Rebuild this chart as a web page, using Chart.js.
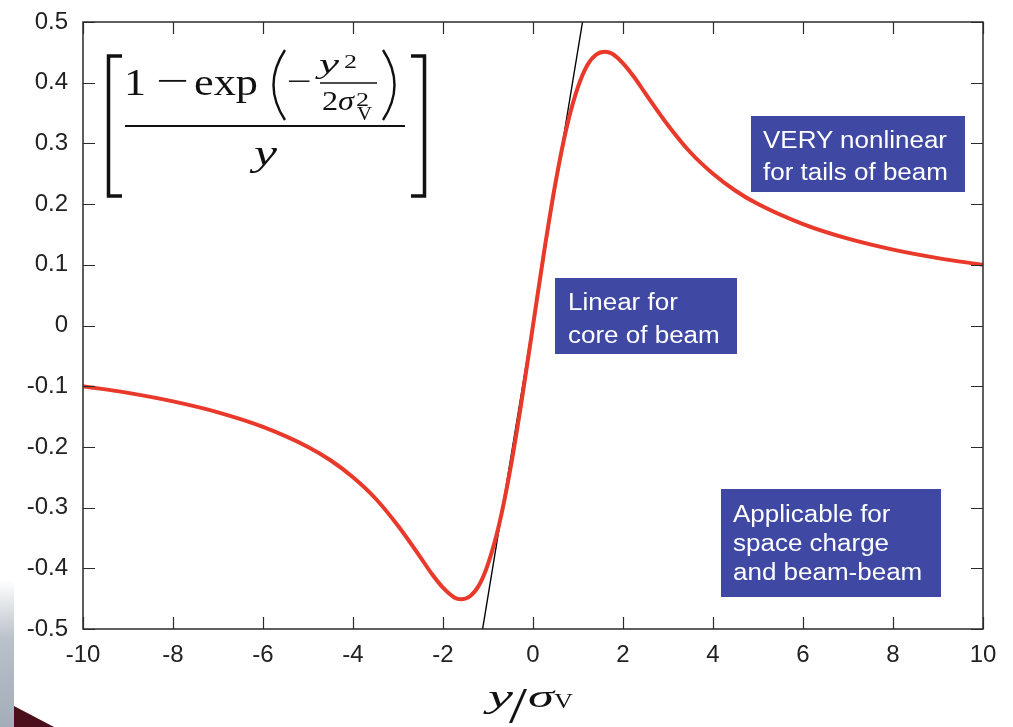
<!DOCTYPE html>
<html>
<head>
<meta charset="utf-8">
<script src="https://cdn.jsdelivr.net/npm/chart.js@4.4.1/dist/chart.umd.min.js"></script>
<style>
  html, body { margin: 0; padding: 0; background: #fff; }
  #wrap { position: relative; width: 1013px; height: 727px; background: #fff; overflow: hidden; }
  #strip { position: absolute; left: 0; top: 580px; width: 14px; height: 147px;
           background: linear-gradient(to bottom, rgba(160,170,182,0) 0%, #b9c1ca 40%, #a3adb8 100%); }
  canvas { position: absolute; left: 0; top: 0; }
  .box { position: absolute; background: #3f48a3; color: #fff; font-family: 'Liberation Sans', Arial, sans-serif;
         font-size: 23px; display: flex; flex-direction: column; justify-content: center; box-sizing: border-box; white-space: nowrap; }
  .box > div { transform: scaleX(1.13); transform-origin: 0 50%; }
  svg.ov { position: absolute; left: 0; top: 0; pointer-events: none; }
</style>
</head>
<body>
<div id="wrap">
  <div id="strip"></div>
  <svg class="ov" width="1013" height="727"><polygon points="14,706 14,727 54,727" fill="#4a0f1a"/></svg>
  <canvas id="c" width="1013" height="727"></canvas>

  <div class="box" style="left:751px;top:116px;width:214px;height:76px;padding-left:12px;padding-top:4px;line-height:32px;">
    <div>VERY nonlinear</div><div>for tails of beam</div>
  </div>
  <div class="box" style="left:555px;top:278px;width:182px;height:76px;padding-left:13px;padding-top:5px;line-height:33px;">
    <div>Linear for</div><div>core of beam</div>
  </div>
  <div class="box" style="left:721px;top:489px;width:220px;height:108px;padding-left:12px;line-height:29px;">
    <div>Applicable for</div><div>space charge</div><div>and beam-beam</div>
  </div>

  <svg class="ov" width="1013" height="727" font-family="'Liberation Serif','DejaVu Serif',serif" fill="#111">
    <path d="M122 56 H108.5 V196 H122" stroke="#111" stroke-width="3.5" fill="none"/>
    <path d="M411 56 H424.5 V196 H411" stroke="#111" stroke-width="3.5" fill="none"/>
    <line x1="125" y1="126" x2="405" y2="126" stroke="#111" stroke-width="2.2"/>
    <text x="124" y="95" font-size="37" textLength="22" lengthAdjust="spacingAndGlyphs">1</text>
    <text x="156" y="93" font-size="37" textLength="33" lengthAdjust="spacingAndGlyphs">−</text>
    <text x="194" y="95" font-size="38" textLength="64" lengthAdjust="spacingAndGlyphs">exp</text>
    <path d="M285 50 Q262 85 285 120" stroke="#111" stroke-width="2.4" fill="none"/>
    <path d="M383 50 Q406 85 383 120" stroke="#111" stroke-width="2.4" fill="none"/>
    <text x="287" y="91" font-size="30" textLength="25" lengthAdjust="spacingAndGlyphs">−</text>
    <text x="319" y="73" font-size="27" font-style="italic" textLength="20" lengthAdjust="spacingAndGlyphs">y</text>
    <text x="344" y="68" font-size="19" textLength="13" lengthAdjust="spacingAndGlyphs">2</text>
    <line x1="320" y1="83" x2="377" y2="83" stroke="#111" stroke-width="1.6"/>
    <text x="322" y="110" font-size="27" textLength="32" lengthAdjust="spacingAndGlyphs">2<tspan font-style="italic">σ</tspan></text>
    <text x="356" y="106" font-size="19" textLength="13" lengthAdjust="spacingAndGlyphs">2</text>
    <text x="357" y="120" font-size="18" textLength="15" lengthAdjust="spacingAndGlyphs">V</text>
    <text x="254" y="165" font-size="36" font-style="italic" textLength="23" lengthAdjust="spacingAndGlyphs">y</text>

    <text x="488" y="707" font-size="32" font-style="italic" textLength="25" lengthAdjust="spacingAndGlyphs">y</text>
    <text x="509" y="722" font-size="50" textLength="18" lengthAdjust="spacingAndGlyphs">/</text>
    <text x="528" y="707" font-size="32" font-style="italic" textLength="26" lengthAdjust="spacingAndGlyphs">σ</text>
    <text x="554" y="708" font-size="22" textLength="19" lengthAdjust="spacingAndGlyphs">V</text>
  </svg>
</div>

<script>
// ---- data ----
const curveX = [-10, -9, -8, -7, -6, -5, -4.5, -4, -3.5, -3, -2.5, -2.25, -2, -1.75, -1.6, -1.4, -1.2, -1, -0.75, -0.5, -0.25, 0,
                0.25, 0.5, 0.75, 1, 1.2, 1.4, 1.6, 1.75, 2, 2.25, 2.5, 3, 3.5, 4, 4.5, 5, 6, 7, 8, 9, 10];
const curveY = [-0.100, -0.111, -0.125, -0.143, -0.167, -0.200, -0.222, -0.250, -0.285, -0.330, -0.382, -0.409, -0.432, -0.448, -0.451, -0.446, -0.428, -0.393, -0.327, -0.235, -0.123, 0,
                0.123, 0.235, 0.327, 0.393, 0.428, 0.446, 0.451, 0.448, 0.432, 0.409, 0.382, 0.330, 0.285, 0.250, 0.222, 0.200, 0.167, 0.143, 0.125, 0.111, 0.100];
const tangentX = [-1.12, 1.10];
const tangentY = [-0.5, 0.5];
const xTicks = [-10, -8, -6, -4, -2, 0, 2, 4, 6, 8, 10];
const yTicks = [-0.5, -0.4, -0.3, -0.2, -0.1, 0, 0.1, 0.2, 0.3, 0.4, 0.5];

const frameColor = '#2b2b2b';
const frameTicks = {
  id: 'frameTicks',
  afterDatasetsDraw(chart) {
    const { ctx, chartArea: a, scales: { x, y } } = chart;
    const L = 12;
    ctx.save();
    ctx.strokeStyle = frameColor;
    ctx.lineWidth = 1.5;
    ctx.strokeRect(a.left, a.top, a.right - a.left, a.bottom - a.top);
    ctx.beginPath();
    xTicks.forEach(v => {
      const px = Math.round(x.getPixelForValue(v)) + 0.5;
      ctx.moveTo(px, a.bottom); ctx.lineTo(px, a.bottom - L);
      ctx.moveTo(px, a.top); ctx.lineTo(px, a.top + L);
    });
    yTicks.forEach(v => {
      const py = Math.round(y.getPixelForValue(v)) + 0.5;
      ctx.moveTo(a.left, py); ctx.lineTo(a.left + L, py);
      ctx.moveTo(a.right, py); ctx.lineTo(a.right - L, py);
    });
    ctx.lineWidth = 1.2;
    ctx.stroke();
    ctx.restore();
  }
};

const tickFont = { family: "'Liberation Sans', Arial, sans-serif", size: 24 };
const noPad = s => { s.paddingTop = 0; s.paddingBottom = 0; s.paddingLeft = 0; s.paddingRight = 0; };

new Chart(document.getElementById('c'), {
  type: 'line',
  data: {
    datasets: [
      {
        data: curveX.map((v, i) => ({ x: v, y: curveY[i] })),
        borderColor: '#e8392b', borderWidth: 4, pointRadius: 0,
        cubicInterpolationMode: 'monotone', fill: false
      },
      {
        data: tangentX.map((v, i) => ({ x: v, y: tangentY[i] })),
        borderColor: '#000', borderWidth: 1.4, pointRadius: 0, fill: false, clip: false
      }
    ]
  },
  options: {
    responsive: false, animation: false, devicePixelRatio: 1,
    layout: { padding: { top: 22, right: 30, left: 0, bottom: 0 } },
    plugins: { legend: { display: false }, tooltip: { enabled: false } },
    scales: {
      x: {
        type: 'linear', min: -10, max: 10,
        afterBuildTicks: s => { s.ticks = xTicks.map(v => ({ value: v })); },
        ticks: { font: tickFont, color: '#222', padding: 12, maxRotation: 0, autoSkip: false,
                 callback: v => String(v) },
        grid: { display: false, drawTicks: false }, border: { display: false },
        afterFit: s => { s.height = 98; noPad(s); }
      },
      y: {
        type: 'linear', min: -0.5, max: 0.5,
        afterBuildTicks: s => { s.ticks = yTicks.map(v => ({ value: v })); },
        ticks: { font: tickFont, color: '#222', padding: 15, autoSkip: false,
                 callback: v => String(Math.round(v * 10) / 10) },
        grid: { display: false, drawTicks: false }, border: { display: false },
        afterFit: s => { s.width = 83; noPad(s); }
      }
    }
  },
  plugins: [frameTicks]
});
</script>
</body>
</html>
